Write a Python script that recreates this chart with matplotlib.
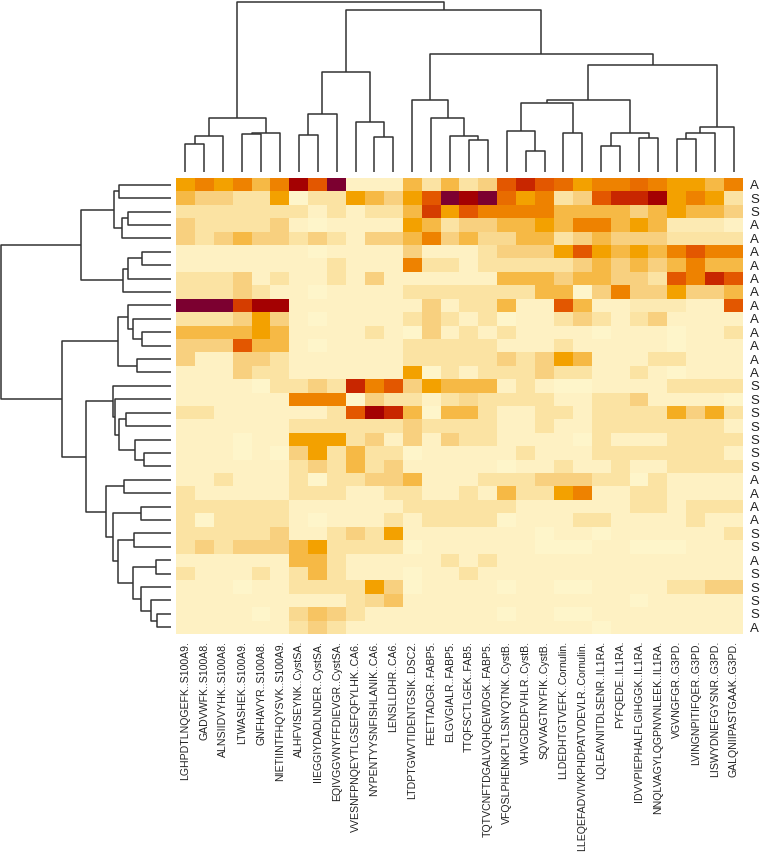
import matplotlib
matplotlib.use("Agg")
import matplotlib.pyplot as plt
import numpy as np
from matplotlib.colors import LinearSegmentedColormap

plt.rcParams['font.family'] = ['Liberation Sans', 'DejaVu Sans']

col_labels = [
    "LGHPDTLNQGEFK..S100A9.", "GADVWFK..S100A8.", "ALNSIIDVYHK..S100A8.",
    "LTWASHEK..S100A9.", "GNFHAVYR..S100A8.", "NIETIINTFHQYSVK..S100A9.",
    "ALHFVISEYNK..CystSA.", "IIEGGIYDADLNDER..CystSA.", "EQIVGGVNYFFDIEVGR..CystSA.",
    "VVESNFPNQEYTLGSEFQFYLHK..CA6.", "NYPENTYYSNFISHLANIK..CA6.", "LENSLLDHR..CA6.",
    "LTDPTGWVTIDENTGSIK..DSC2.", "FEETTADGR..FABP5.", "ELGVGIALR..FABP5.",
    "TTQFSCTLGEK..FAB5.", "TQTVCNFTDGALVQHQEWDGK..FABP5.", "VFQSLPHENKPLTLSNYQTNK..CystB.",
    "VHVGDEDFVHLR..CystB.", "SQVVAGTNYFIK..CystB.", "LLDEDHTGTVEFK..Cornulin.",
    "LLEQEFADVIVKPHDPATVDEVLR..Cornulin.", "LQLEAVNITDLSENR..IL1RA.", "FYFQEDE..IL1RA.",
    "IDVVPIEPHALFLGIHGGK..IL1RA.", "NNQLVAGYLQGPNVNLEEK..IL1RA.", "VGVNGFGR..G3PD.",
    "LVINGNPITIFQER..G3PD.", "LISWYDNEFGYSNR..G3PD.", "GALQNIIPASTGAAK..G3PD.",
]

row_labels = list("ASSAAAAAAAAAAAASSSSSSSAAAASSASSSSA")

# intensity level per cell (0 = palest, 10 = darkest), rows top to bottom
values = [
    [5, 6, 5, 6, 4, 6, 9, 7, 10, 1, 1, 1, 4, 2, 4, 2, 3, 7, 8, 7, 6.5, 5, 6, 6, 6.5, 6, 5, 5, 4, 6],
    [4, 3, 3, 2, 2, 5, 0.5, 2, 2, 5, 4, 3, 5, 7, 10, 9, 10, 6.5, 5, 6, 2, 3, 7, 8, 8, 9, 5, 6, 5, 2],
    [2, 2, 2, 2, 2, 2, 2, 1, 2, 1, 2, 2, 4, 7.5, 5, 7, 6, 6, 6, 6, 4, 4, 4, 4, 3, 4, 5, 4, 4, 3],
    [3, 2, 2, 2, 2, 3, 1, 0.5, 1, 1, 1, 1, 5, 4, 2, 3, 3, 4, 4, 5, 4, 6, 6, 4, 5, 4, 1.5, 1.5, 1.5, 1],
    [3, 2, 3, 4, 3, 3, 2, 3, 2, 1, 3, 3, 4, 6, 3, 4, 2.5, 2.5, 4, 4, 2, 3, 4, 3, 3, 3, 2, 2, 2, 2],
    [1, 1, 1, 1, 1, 1, 1, 0.5, 1, 1, 1, 1, 3, 1, 1, 1, 2, 3, 3, 3, 5, 7, 5, 4, 5, 4, 6, 7, 6, 6],
    [1, 1, 1, 1, 1, 1, 1, 1, 2, 1, 1, 1, 6, 2, 2, 1, 2, 2, 2, 2, 2, 3, 4, 3, 4, 3, 4, 6, 4, 4],
    [2, 2, 2, 3, 1, 2, 1, 1, 2, 1, 3, 1, 1, 1, 1, 1, 1, 4, 4, 4, 3, 4, 4, 3, 3, 2, 7, 6, 8, 7],
    [2, 2, 2, 3, 2, 1, 1, 0.5, 1, 1, 1, 1, 2, 2, 2, 2, 2, 2, 2, 4, 4, 0.5, 3, 6, 3, 3, 5, 3, 3, 4],
    [10, 10, 10, 7.5, 9, 9, 1, 1, 1, 1, 1, 1, 1, 3, 1, 2, 2, 4, 1, 1, 7, 4, 1, 1, 1.5, 1.5, 1.5, 1, 1, 7],
    [2, 2, 2, 3, 5, 3, 1, 0.5, 1, 1, 1, 1, 2, 3, 2, 1, 2, 0.5, 1, 1, 2, 3, 2, 1, 2, 3, 1, 1, 1, 1],
    [4, 4, 4, 4, 5, 4, 1, 1, 1, 1, 2, 1, 0.5, 3, 1, 2, 1, 2, 1, 1, 1, 1, 0.5, 1, 1, 1, 0.5, 1, 1, 2],
    [3, 3, 3, 7, 4, 4, 1, 0.5, 1, 1, 1, 1, 2, 2, 2, 2, 2, 1, 1, 1, 2, 1, 1, 1, 1, 1, 0.5, 1, 1, 1],
    [3, 1, 1, 3, 3, 2, 1, 1, 1, 1, 1, 1, 2, 2, 2, 2, 2, 3, 2, 3, 5, 4, 1, 1, 1, 2, 2, 1, 1, 1],
    [1, 1, 1, 3, 2, 2, 1, 1, 1, 1, 1, 1, 5, 0.5, 2, 1, 2, 2, 2, 3, 2, 2, 1, 1, 2, 1, 0.5, 1, 1, 1],
    [1, 1, 1, 1, 0.5, 2, 2, 3, 2, 8, 6, 7, 3, 5, 4, 4, 4, 1, 2, 1, 0.5, 0.5, 1, 1, 1, 1, 2, 2, 2, 2],
    [1, 1, 1, 1, 1, 1, 6, 6, 6, 0.5, 3, 2, 2, 1, 2, 2.5, 2, 2, 2, 2, 1, 1, 2, 2, 3, 1, 1, 1, 1, 0.5],
    [2, 2, 1, 1, 1, 1, 1, 1, 2, 7, 9, 8, 4, 0.5, 4, 4, 2, 1, 1, 2, 2, 1, 2, 2, 2, 2, 4.5, 3, 4.5, 2],
    [1, 1, 1, 1, 1, 1, 2, 2, 2, 2, 2, 2, 3, 2, 2, 2, 2, 1, 1, 2, 1, 1, 2, 2, 2, 2, 2, 2, 2, 1],
    [1, 1, 1, 0.5, 1, 1, 5, 5, 5, 2, 3, 1, 3, 1, 3, 2, 2, 1, 1, 1, 1, 0.5, 2, 1, 1, 1, 2, 2, 2, 2],
    [1, 1, 1, 0.5, 1, 0.5, 3, 5, 2, 4, 2, 2, 0.5, 1, 1, 1, 1, 1, 2, 1, 1, 1, 2, 2, 2, 2, 2, 2, 2, 1],
    [1, 1, 1, 1, 1, 1, 2, 3, 2, 4, 2, 3, 1, 1, 1, 1, 1, 0.5, 1, 1, 2, 1, 1, 2, 1, 1, 2, 2, 2, 2],
    [1, 1, 2, 1, 1, 1, 2, 0.5, 2, 2, 3, 3, 4, 1, 1, 1, 2, 2, 2, 3, 3, 3, 2, 2, 0.5, 2, 1, 1, 1, 1],
    [2, 1, 1, 1, 1, 1, 2, 2, 2, 1, 1, 2, 2, 1, 1, 2, 1, 4, 2, 2, 5, 6, 1, 1, 2, 2, 1, 1, 1, 1],
    [2, 2, 2, 2, 2, 2, 1, 1, 1, 1, 1, 1, 2, 2, 2, 2, 2, 2, 1, 1, 1, 1, 1, 1, 2, 2, 1, 2, 2, 2],
    [2, 0.5, 2, 2, 2, 2, 1, 0.5, 1, 1, 1, 2, 1, 2, 2, 2, 2, 0.5, 1, 1, 1, 2, 2, 1, 1, 1, 1, 2, 1, 1],
    [2, 2, 2, 2, 2, 3, 1, 1, 2, 3, 2, 5, 1, 1, 1, 1, 1, 1, 1, 0.5, 1, 1, 0.5, 1, 1, 1, 1, 1, 1, 2],
    [2, 3, 2, 3, 3, 3, 4, 5, 2, 2, 2, 2, 0.5, 1, 1, 1, 1, 1, 1, 0.5, 0.5, 0.5, 1, 1, 0.5, 0.5, 0.5, 1, 1, 1],
    [1, 1, 1, 1, 1, 1, 4, 4, 2, 1, 1, 1, 1, 1, 2, 1, 2, 1, 1, 1, 1, 1, 1, 1, 1, 1, 1, 1, 1, 1],
    [2, 1, 1, 1, 2, 1, 2, 4, 2, 1, 1, 1, 0.5, 1, 1, 2, 1, 1, 1, 1, 1, 1, 1, 1, 1, 1, 1, 1, 1, 1],
    [1, 1, 1, 0.5, 1, 1, 2, 2, 2, 2, 5, 3, 0.5, 1, 1, 1, 1, 0.5, 1, 1, 0.5, 0.5, 1, 1, 1, 1, 2, 2, 3, 3],
    [1, 1, 1, 1, 1, 1, 1, 1, 1, 2, 2.5, 3.5, 1, 1, 1, 1, 1, 1, 1, 1, 1, 1, 1, 1, 0.5, 1, 1, 1, 1, 1],
    [1, 1, 1, 1, 0.5, 1, 2.5, 3.5, 3, 2, 1, 1, 1, 1, 1, 1, 1, 0.5, 1, 1, 0.5, 0.5, 1, 1, 1, 1, 1, 1, 1, 1],
    [1, 1, 1, 1, 1, 1, 2, 3, 2, 1, 1, 1, 1, 1, 1, 1, 1, 1, 1, 1, 1, 1, 0.5, 1, 1, 1, 1, 1, 1, 1],
]

# dendrogram merges: (child a, child b, height); ids >= n are earlier merges
col_merges = [
    (0, 1, 85), (30, 2, 108), (3, 4, 114), (32, 5, 116), (31, 33, 163),
    (6, 7, 110), (35, 8, 174), (10, 11, 105), (9, 37, 149), (36, 38, 301),
    (15, 16, 97), (14, 40, 108), (13, 41, 163), (12, 42, 215),
    (18, 19, 64), (17, 44, 124), (20, 21, 116), (45, 46, 207),
    (22, 23, 79), (24, 25, 101), (48, 49, 117), (47, 50, 215),
    (26, 27, 99), (52, 28, 118), (53, 29, 134), (51, 54, 323),
    (43, 55, 356), (39, 56, 488), (34, 57, 512),
]

row_merges = [
    (0, 1, 52), (2, 3, 42.7), (35, 4, 49.3), (34, 36, 56.7),
    (5, 6, 28.7), (38, 7, 42.7), (39, 8, 48.3), (37, 40, 90),
    (11, 12, 29.3), (10, 42, 38.3), (9, 43, 43.3), (13, 14, 34.3), (44, 45, 52.7),
    (17, 18, 45), (20, 21, 27), (19, 48, 36), (47, 49, 51.7), (16, 50, 56), (15, 51, 57.7),
    (22, 23, 47), (24, 25, 30), (26, 27, 37), (28, 29, 15), (32, 33, 14),
    (31, 57, 20), (30, 58, 30), (56, 59, 38), (55, 60, 53), (54, 61, 58),
    (53, 62, 65), (52, 63, 85), (46, 64, 109), (41, 65, 170),
]

level_colors = ["#FFFAD2", "#FEF1C3", "#FBE3A3", "#F8D07F", "#F6B945", "#F4A200",
                "#EE8200", "#E45800", "#C82600", "#A50202", "#7C0030"]
cmap = LinearSegmentedColormap.from_list("heat", level_colors)


def dendro_segments(merges, n):
    pos = {i: i + 0.5 for i in range(n)}
    hgt = {i: 0.0 for i in range(n)}
    segs = []
    for k, (a, b, h) in enumerate(merges):
        segs.append(([pos[a], pos[a], pos[b], pos[b]], [hgt[a], h, h, hgt[b]]))
        pos[n + k] = (pos[a] + pos[b]) / 2
        hgt[n + k] = h
    return segs


W, H = 761, 856
fig = plt.figure(figsize=(W / 100, H / 100), dpi=100)

ax = fig.add_axes([176 / W, (H - 634) / H, 567 / W, 456 / H])
mat = np.array(values)
nrow, ncol = mat.shape
ax.imshow(mat, cmap=cmap, vmin=0, vmax=10, aspect='auto', interpolation='nearest',
          extent=(0, ncol, nrow, 0))
for s in ax.spines.values():
    s.set_visible(False)
ax.set_xticks(np.arange(ncol) + 0.5)
ax.set_xticklabels(col_labels, rotation=90, fontsize=7.6, color='#222222')
ax.set_yticks(np.arange(nrow) + 0.5)
ax.set_yticklabels(row_labels, fontsize=9.5, color='#222222')
ax.yaxis.tick_right()
ax.tick_params(length=0, pad=5)

axc = fig.add_axes([176 / W, (H - 172) / H, 567 / W, 171 / H])
for xs, ys in dendro_segments(col_merges, ncol):
    axc.plot(xs, ys, color='#333333', lw=1.1, solid_capstyle='butt')
axc.set_xlim(0, ncol)
axc.set_ylim(0, 514)
axc.axis('off')

axr = fig.add_axes([0, (H - 634) / H, 171 / W, 456 / H])
for xs, ys in dendro_segments(row_merges, nrow):
    axr.plot(ys, xs, color='#333333', lw=1.1, solid_capstyle='butt')
axr.set_ylim(nrow, 0)
axr.set_xlim(170.5, 0)
axr.axis('off')

fig.savefig("out.png", dpi=100)
